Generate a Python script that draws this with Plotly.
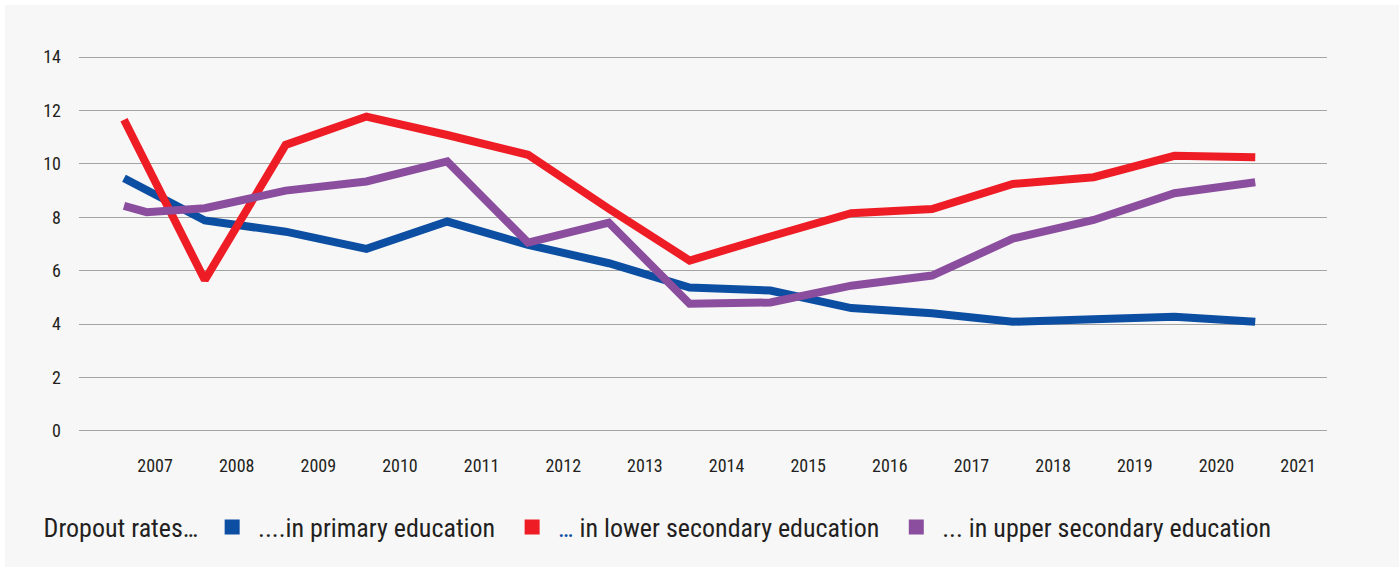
import plotly.graph_objects as go

# Year labels along the bottom axis
years = ["2007", "2008", "2009", "2010", "2011", "2012", "2013", "2014",
         "2015", "2016", "2017", "2018", "2019", "2020", "2021"]

# Observation positions (index along the time axis)
x_primary = [0, 1, 2, 3, 4, 5, 6, 7, 8, 9, 10, 11, 12, 13, 14]
x_lower = [0, 1, 2, 3, 4, 5, 6, 7, 8, 9, 10, 11, 12, 13, 14]
x_upper = [0, 0.28, 1, 2, 3, 4, 5, 6, 7, 8, 9, 10, 11, 12, 13, 14]

# Dropout rates (%)
primary = [9.46, 7.88, 7.46, 6.82, 7.84, 6.97, 6.28, 5.37, 5.26, 4.60,
           4.41, 4.09, 4.18, 4.28, 4.09]
lower_secondary = [11.65, 5.65, 10.71, 11.77, 11.08, 10.34, 8.32, 6.38, 7.28,
                   8.15, 8.31, 9.25, 9.50, 10.30, 10.25]
upper_secondary = [8.43, 8.19, 8.34, 9.00, 9.34, 10.09, 7.05, 7.80, 4.76, 4.81,
                   5.44, 5.82, 7.20, 7.90, 8.90, 9.31]

y_ticks = [0, 2, 4, 6, 8, 10, 12, 14]

BLUE = "#0b4ea2"
RED = "#ee1c25"
PURPLE = "#8b4d9e"
TEXT = "#231f20"
FONT = ("Roboto Condensed, Open Sans Condensed, Liberation Sans Narrow, "
        "Arial Narrow, DejaVu Sans Condensed, sans-serif")
NBSP = "\u00a0"

fig = go.Figure()

series = [
    (x_primary, primary, BLUE, NBSP + "....in primary education" + NBSP * 2),
    (x_lower, lower_secondary, RED,
     NBSP + f'<span style="color:{BLUE}">…</span> in lower secondary education' + NBSP * 2),
    (x_upper, upper_secondary, PURPLE, NBSP + "... in upper secondary education"),
]

for xs, ys, color, name in series:
    fig.add_trace(go.Scatter(
        x=xs, y=ys, mode="lines",
        line=dict(color=color, width=8),
        showlegend=False, hoverinfo="skip",
    ))

# Square swatches for the legend
for xs, ys, color, name in series:
    fig.add_trace(go.Scatter(
        x=[None], y=[None], mode="markers", name=name,
        marker=dict(symbol="square", size=15, color=color),
    ))

# Tick label positions sit to the right of each year's observation
tick_pos = [0.384 + i * 1.0104 for i in range(len(years))]

fig.update_layout(
    width=1399, height=567,
    margin=dict(l=79, r=72, t=49, b=128),
    paper_bgcolor="white",
    plot_bgcolor="rgba(0,0,0,0)",
    font=dict(family=FONT, color=TEXT, size=18),
    xaxis=dict(
        range=[-0.557, 14.888],
        tickvals=tick_pos, ticktext=years,
        showgrid=False, zeroline=False, showline=False, ticks="",
        ticklabelstandoff=14,
        tickfont=dict(size=18, color=TEXT),
    ),
    yaxis=dict(
        range=[-0.3, 14.3],
        tickvals=y_ticks,
        showgrid=True, gridcolor="#a4a4a4", gridwidth=1.4,
        zeroline=False, showline=False, ticks="",
        ticklabelstandoff=17,
        tickfont=dict(size=18, color=TEXT),
    ),
    legend=dict(
        orientation="h",
        x=-0.03, xanchor="left",
        y=-0.226, yanchor="middle",
        font=dict(size=26, color=TEXT),
        title=dict(text="Dropout rates…" + NBSP, font=dict(size=26, color=TEXT)),
        bgcolor="rgba(0,0,0,0)",
    ),
    shapes=[dict(
        type="rect", xref="paper", yref="paper",
        x0=(5 - 79) / 1248, x1=(1399 - 79) / 1248,
        y0=(439 - 567) / 390, y1=(439 - 5) / 390,
        fillcolor="#f7f7f7", line=dict(width=0), layer="below",
    )],
)

fig.write_html("out.html")
